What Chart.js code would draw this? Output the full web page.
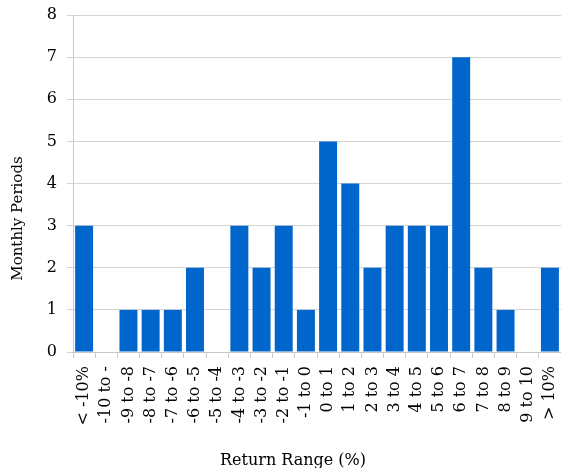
<!DOCTYPE html>
<html>
<head>
<meta charset="utf-8">
<script src="https://cdn.jsdelivr.net/npm/chart.js@4"></script>
<style>
html,body{margin:0;padding:0;background:#fff;}
#wrap{width:561px;height:468px;}
</style>
</head>
<body>
<div id="wrap"><canvas id="c" width="561" height="468"></canvas></div>
<script>
const categories = ["< -10%","-10 to -","-9 to -8","-8 to -7","-7 to -6","-6 to -5","-5 to -4","-4 to -3","-3 to -2","-2 to -1","-1 to 0","0 to 1","1 to 2","2 to 3","3 to 4","4 to 5","5 to 6","6 to 7","7 to 8","8 to 9","9 to 10","> 10%"];
const periods = [3,0,1,1,1,2,0,3,2,3,1,5,4,2,3,3,3,7,2,1,0,2];
const yTicks = [0,1,2,3,4,5,6,7,8];
const xTitle = "Return Range (%)";
const yTitle = "Monthly Periods";

const FONT = "'DejaVu Serif', 'Liberation Serif', serif";

const axisTitlesPlugin = {
  id: 'axisTitles',
  afterDraw(chart) {
    const ctx = chart.ctx;
    const a = chart.chartArea;
    ctx.save();
    ctx.fillStyle = '#000';
    ctx.textAlign = 'center';
    ctx.textBaseline = 'middle';
    ctx.font = "16px " + FONT;
    ctx.fillText(xTitle, (a.left + a.right) / 2 - 24, 461);
    ctx.font = "15px " + FONT;
    ctx.translate(18, (a.top + a.bottom) / 2 + 35);
    ctx.rotate(-Math.PI / 2);
    ctx.fillText(yTitle, 0, 0);
    ctx.restore();
  }
};

new Chart(document.getElementById('c'), {
  type: 'bar',
  data: {
    labels: categories,
    datasets: [{
      data: periods,
      backgroundColor: '#0066cc',
      borderWidth: 0,
      barPercentage: 0.81,
      categoryPercentage: 1.0
    }]
  },
  plugins: [axisTitlesPlugin],
  options: {
    responsive: false,
    animation: false,
    devicePixelRatio: 1,
    layout: { padding: { top: 15, right: 0, bottom: 0, left: 0 } },
    plugins: { legend: { display: false }, tooltip: { enabled: false } },
    scales: {
      x: {
        afterFit: (s) => { s.height = 116; s.paddingRight = 0; s.paddingLeft = 0; },
        grid: { display: true, drawOnChartArea: false, offset: true, color: '#c8c8c8', tickLength: 6 },
        border: { color: '#c8c8c8' },
        ticks: { minRotation: 90, maxRotation: 90, autoSkip: false, color: '#000', font: { family: FONT, size: 16 }, padding: 8 },
        title: { display: false }
      },
      y: {
        min: 0, max: 8,
        afterFit: (s) => { s.width = 73; s.paddingTop = 0; s.paddingBottom = 0; },
        afterBuildTicks: (s) => { s.ticks = yTicks.map(v => ({ value: v })); },
        grid: { color: '#d4d4d4', tickLength: 6 },
        border: { color: '#c8c8c8' },
        ticks: { color: '#000', font: { family: FONT, size: 16 }, padding: 10 },
        title: { display: false }
      }
    }
  }
});
</script>
</body>
</html>
